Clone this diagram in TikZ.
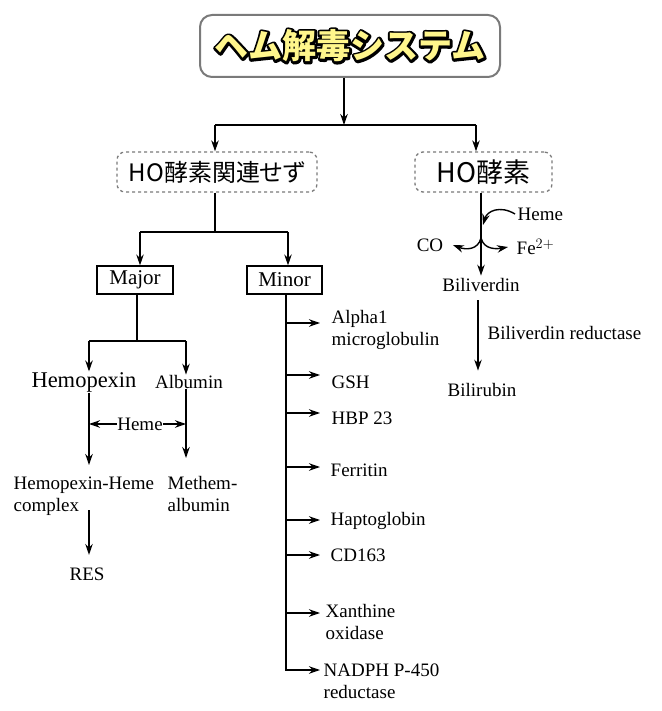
\documentclass[tikz,border=0pt]{standalone}
\usepackage{fontspec}
\setmainfont{Liberation Serif}
\newfontfamily\jpfont{Noto Sans CJK JP}
\newfontfamily\jppalt{Noto Sans CJK JP}[RawFeature=+palt]
\usetikzlibrary{arrows.meta}

\definecolor{titleyellow}{HTML}{FFF68C}
\definecolor{boxgray}{HTML}{7A7A7A}

% outlined title text: black stroke below, yellow fill on top
\newcommand{\outlinetext}[1]{%
  \rlap{\special{pdf:literal direct 1 Tr 4.8 w 1 j 0 0 0 RG}#1\special{pdf:literal direct 0 Tr}}%
  \textcolor{titleyellow}{#1}}

\begin{document}
\begin{tikzpicture}[x=1pt, y=-1pt, line width=1.4pt,
  >={Stealth[length=11pt,width=7.5pt]},
  titlebox/.style={draw=boxgray, line width=2pt, rounded corners=12pt,
    minimum width=300pt, minimum height=62pt},
  hobox/.style={draw=boxgray, dashed, line width=1.3pt, rounded corners=8pt,
    minimum height=40pt},
  classbox/.style={draw, line width=1.2pt, minimum height=28pt,
    font=\fontsize{21}{24}\selectfont},
  lbl/.style={inner sep=0pt, font=\fontsize{19}{22}\selectfont},
  lblL/.style={lbl, align=left},
]

  % ── title and the two HO boxes ──
  \node[titlebox] (title) at (350,46)
    {\jpfont\bfseries\fontsize{34}{36}\selectfont\outlinetext{ヘム解毒システム}};
  \node[hobox, minimum width=200pt, font=\jppalt\fontsize{24}{28}\selectfont] (hoA) at (217,172) {HO酵素関連せず};
  \node[hobox, minimum width=137pt, font=\jpfont\fontsize{27}{28}\selectfont] (hoB) at (483.5,172) {HO酵素};

  \coordinate (sp0) at (344,125);
  \coordinate (barL) at (215,125);
  \coordinate (barR) at (476,125);
  \draw[->] (sp0 |- title.south) -- (sp0);
  \draw (barL) -- (barR);
  \draw[->] (barL) -- (barL |- hoA.north);
  \draw[->] (barR) -- (barR |- hoB.north);

  % ── HO酵素関連せず: Major / Minor ──
  \node[classbox, minimum width=76pt] (major) at (135,280) {Major};
  \node[classbox, minimum width=75pt] (minor) at (284.5,280) {Minor};

  \coordinate (sp1) at (215,232);
  \coordinate (majIn) at (140,232);
  \coordinate (minIn) at (288,232);
  \draw (sp1 |- hoA.south) -- (sp1);
  \draw (majIn) -- (minIn);
  \draw[->] (majIn) -- (majIn |- major.north);
  \draw[->] (minIn) -- (minIn |- minor.north);

  % ── Major branch ──
  \node[lbl, font=\fontsize{22.5}{26}\selectfont] (hpx) at (84,382) {Hemopexin};
  \node[lbl] (alb) at (189,382) {Albumin};
  \node[lblL, anchor=north west] (cplx) at (13,476) {Hemopexin-Heme\\complex};
  \node[lblL, anchor=north west] (methem) at (167,476) {Methem-\\albumin};
  \node[lbl] (res) at (87,574) {RES};
  \node[lbl] (hemeM) at (140,424) {Heme};

  \coordinate (sp2) at (137,341);
  \coordinate (hpL) at (89,341);
  \coordinate (hpR) at (186,341);
  \draw (sp2 |- major.south) -- (sp2);
  \draw (hpL) -- (hpR);
  \draw[->] (hpL) -- (hpL |- hpx.north);
  \draw[->] (hpR) -- (hpR |- alb.north);
  \draw[->, shorten >=11pt] (hpL |- hpx.south) -- (hpL |- cplx.north);
  \draw[->, shorten >=18pt] (hpR |- alb.south) -- (hpR |- methem.north);
  \draw[->] (hemeM.west) -- (hemeM.west -| hpL);
  \draw[->] (hemeM.east) -- (hemeM.east -| hpR);
  \draw[->, shorten <=-6pt, shorten >=12pt] (hpL |- cplx.south) -- (hpL |- res.north);

  % ── Minor branch ──
  \node[lblL, anchor=north west] (alpha) at (331,310) {Alpha1\\microglobulin};
  \node[lbl, anchor=west] (gsh) at (331,382) {GSH};
  \node[lbl, anchor=west] (hbp) at (331,418) {HBP 23};
  \node[lbl, anchor=west] (ferr) at (330,470) {Ferritin};
  \node[lbl, anchor=west] (hapto) at (330,521) {Haptoglobin};
  \node[lbl, anchor=west] (cd) at (330,555) {CD163};
  \node[lblL, anchor=north west] (xo) at (325,604) {Xanthine\\oxidase};
  \node[lblL, anchor=north west] (nadph) at (323,663) {NADPH P-450\\reductase};

  \coordinate (mEnd) at (286,670);
  \coordinate (mTip) at (320,670);
  \draw[->] (mEnd |- minor.south) -- (mEnd) -- (mTip);
  \draw[->] (mEnd |- 0,323) -- (mTip |- 0,323);   % Alpha1
  \draw[->] (mEnd |- 0,375) -- (mTip |- 0,375);   % GSH
  \draw[->] (mEnd |- 0,413) -- (mTip |- 0,413);   % HBP 23
  \draw[->] (mEnd |- 0,467) -- (mTip |- 0,467);   % Ferritin
  \draw[->] (mEnd |- 0,520) -- (mTip |- 0,520);   % Haptoglobin
  \draw[->] (mEnd |- 0,555) -- (mTip |- 0,555);   % CD163
  \draw[->] (mEnd |- 0,613) -- (mTip |- 0,613);   % Xanthine

  % ── HO酵素 branch ──
  \node[lbl] (bv) at (481,285) {Biliverdin};
  \node[lbl] (br) at (482,390) {Bilirubin};
  \node[lbl, anchor=west] (hemeR) at (517,214) {Heme};
  \node[lbl] (co) at (430,245) {CO};
  \node[lbl, anchor=west] (fe) at (516,247) {Fe$^{2+}$};
  \node[lbl, anchor=west] (bvr) at (487,333) {Biliverdin reductase};

  \coordinate (hemeIn) at (483,225);
  \coordinate (split) at (481,238);
  \draw[->, shorten >=2pt] (bv.north |- hoB.south) -- (bv.north);
  \draw[->] ([xshift=-2pt]hemeR.west) .. controls (500,205) and (487,211) .. (hemeIn);
  \draw[->] (split) .. controls (478,250) and (466,250) .. ([xshift=9pt]co.east);
  \draw[->] (split) .. controls (484,250) and (497,249) .. ([xshift=-8pt]fe.west);
  \draw[->, shorten <=8pt, shorten >=12pt] ([xshift=-3pt]bv.south) -- ([xshift=-4pt]br.north);

  \pgfresetboundingbox
  \path[use as bounding box] (0,0) rectangle (661,711);
\end{tikzpicture}
\end{document}
